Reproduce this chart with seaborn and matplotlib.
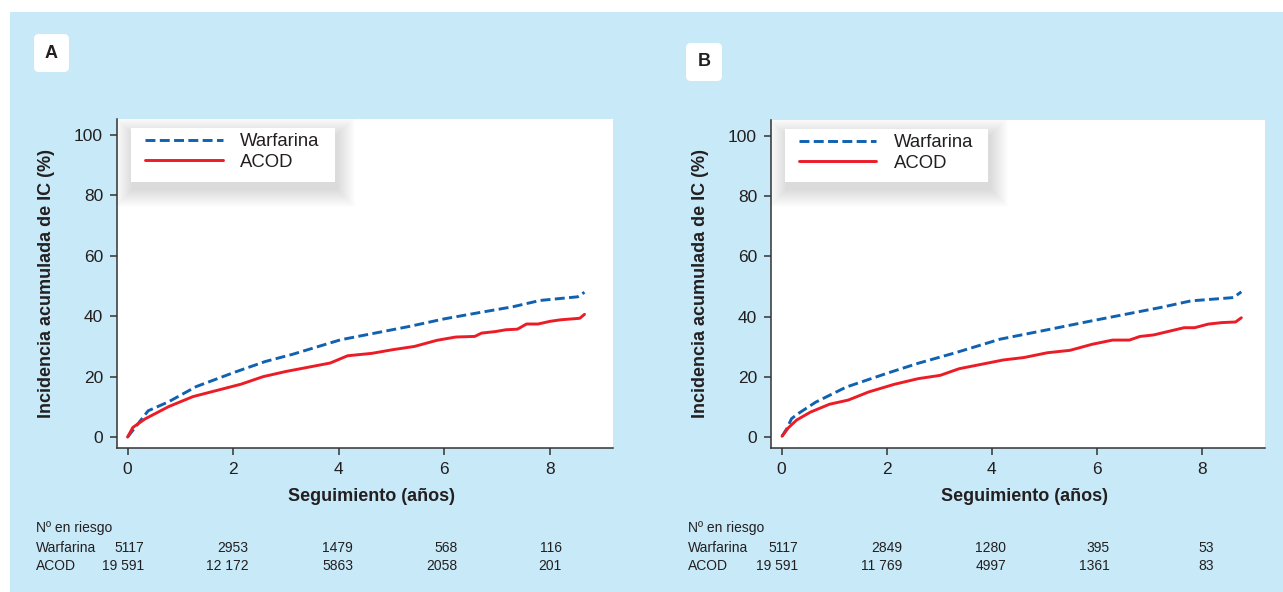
import numpy as np
import pandas as pd
import matplotlib
matplotlib.use("Agg")
import matplotlib.pyplot as plt
from matplotlib.patches import Rectangle, FancyBboxPatch
from matplotlib.lines import Line2D
from matplotlib.transforms import blended_transform_factory, IdentityTransform
from matplotlib import font_manager
import seaborn as sns

# Curvas (tiempo en años, incidencia acumulada en %)
# Panel A
t_war_a = [0, 0.13, 0.39, 0.78, 1.30, 2.02, 2.61, 3.13, 4.04, 4.69, 5.34, 6.0, 6.64, 7.30, 7.82, 8.53, 8.66]
inc_war_a = [0, 2.9, 8.7, 11.7, 16.7, 21.4, 25.0, 27.4, 32.2, 34.4, 36.6, 39.1, 41.1, 43.1, 45.2, 46.4, 47.9]
t_acod_a = [0, 0.10, 0.33, 0.78, 1.24, 2.15, 2.57, 3.0, 3.84, 4.17, 4.63, 5.02, 5.44, 5.86, 6.22, 6.58,
            6.71, 6.97, 7.17, 7.39, 7.56, 7.78, 8.01, 8.21, 8.57, 8.66]
inc_acod_a = [0, 3.2, 6.0, 10.1, 13.4, 17.5, 20.0, 21.7, 24.5, 26.9, 27.7, 28.9, 30.0, 32.0, 33.1, 33.3,
              34.4, 34.9, 35.5, 35.7, 37.4, 37.4, 38.3, 38.8, 39.3, 40.6]

# Panel B
t_war_b = [0.01, 0.10, 0.19, 0.29, 0.65, 1.23, 2.01, 2.60, 3.31, 4.16, 4.94, 5.91, 6.56, 7.21, 7.79, 8.60, 8.75]
inc_war_b = [0.3, 2.8, 6.1, 7.5, 11.6, 16.6, 21.2, 24.5, 28.0, 32.5, 35.2, 38.6, 40.8, 43.0, 45.2, 46.3, 48.2]
t_acod_b = [0.01, 0.13, 0.29, 0.55, 0.91, 1.27, 1.66, 2.14, 2.60, 3.02, 3.38, 4.22, 4.61, 5.06, 5.49, 5.91,
            6.30, 6.62, 6.82, 7.08, 7.66, 7.86, 8.12, 8.38, 8.64, 8.75]
inc_acod_b = [0.3, 3.1, 5.7, 8.3, 10.9, 12.3, 15.0, 17.5, 19.4, 20.5, 22.7, 25.6, 26.4, 28.0, 28.8, 30.8,
              32.2, 32.2, 33.4, 33.9, 36.3, 36.3, 37.5, 38.0, 38.2, 39.6]

# Número en riesgo
risk_times = [0, 2, 4, 6, 8]
risk_war_a = [5117, 2953, 1479, 568, 116]
risk_acod_a = [19591, 12172, 5863, 2058, 201]
risk_war_b = [5117, 2849, 1280, 395, 53]
risk_acod_b = [19591, 11769, 4997, 1361, 83]

grupos = ["Warfarina", "ACOD"]
colores = {"Warfarina": "#1062B0", "ACOD": "#EC1C27"}
estilos = {"Warfarina": (3.4, 1.5), "ACOD": ""}
fondo = "#C8E9F8"
texto = "#231F20"

sns.set_theme(style="ticks")
plt.rcParams["font.family"] = ["Liberation Sans", "DejaVu Sans"]

nombres = {f.name for f in font_manager.fontManager.ttflist}
if "Liberation Sans Narrow" in nombres:
    fuente_tabla, tam_tabla = "Liberation Sans Narrow", 11
else:
    fuente_tabla, tam_tabla = "Liberation Sans", 10


def fmt(n):
    # separador de miles con espacio solo para 5 cifras o más
    return f"{n:,}".replace(",", " ") if n >= 10000 else str(n)


fig = plt.figure(figsize=(12.83, 5.92), dpi=100)
fig.patch.set_facecolor("white")
fig.add_artist(Rectangle((10 / 1283, 0), 1 - 10 / 1283, 1 - 12 / 592, transform=fig.transFigure,
                         facecolor=fondo, edgecolor="none", zorder=-1))

ax_a = fig.add_axes([117 / 1283, 144 / 592, 496 / 1283, 329 / 592])
ax_b = fig.add_axes([771 / 1283, 144 / 592, 494 / 1283, 328 / 592])

paneles = [
    (ax_a, "A", (34, 34, 35, 38), t_war_a, inc_war_a, t_acod_a, inc_acod_a, risk_war_a, risk_acod_a, 36),
    (ax_b, "B", (686, 43, 36, 38), t_war_b, inc_war_b, t_acod_b, inc_acod_b, risk_war_b, risk_acod_b, 688),
]

for ax, letra, caja, tw, iw, ta, ia, rw, ra, x_tabla in paneles:
    df = pd.concat([
        pd.DataFrame({"t": tw, "inc": iw, "grupo": "Warfarina"}),
        pd.DataFrame({"t": ta, "inc": ia, "grupo": "ACOD"}),
    ])
    sns.lineplot(data=df, x="t", y="inc", hue="grupo", style="grupo", hue_order=grupos,
                 style_order=grupos, palette=colores, dashes=estilos, estimator=None,
                 linewidth=2.1, legend=False, ax=ax, zorder=3)

    ax.set_facecolor("white")
    ax.set_xlim(-0.2, 9.2)
    ax.set_ylim(-3.6, 105.2)
    ax.set_xticks([0, 2, 4, 6, 8])
    ax.set_yticks([0, 20, 40, 60, 80, 100])
    sns.despine(ax=ax)
    for s in ["left", "bottom"]:
        ax.spines[s].set_color("#333333")
        ax.spines[s].set_linewidth(1.1)
    ax.tick_params(axis="both", direction="out", length=5, width=1.1, color="#333333",
                   labelsize=12.5, labelcolor=texto, pad=5)

    ax.set_xlabel("Seguimiento (años)", fontsize=13, fontweight="bold", color=texto)
    ax.set_ylabel("Incidencia acumulada de IC (%)", fontsize=13, fontweight="bold", color=texto)
    ax.xaxis.set_label_coords(0.513, -0.122)
    ax.yaxis.set_label_coords(-0.125, 0.5)

    # caja de la leyenda con sombra difusa
    x0, y0, w, h = 0.029, 0.81, 0.41, 0.164
    px, py = 1 / 496, 1 / 329
    for k in range(18, 0, -1):
        ax.add_patch(Rectangle((x0 + 2 * px - k * px, y0 - 7 * py - k * py), w + 2 * k * px, h + 2 * k * py,
                               transform=ax.transAxes, facecolor="black", edgecolor="none",
                               alpha=0.006, zorder=4))
    ax.add_patch(Rectangle((x0, y0), w, h, transform=ax.transAxes, facecolor="white",
                           edgecolor="none", zorder=5))
    handles = [Line2D([], [], color=colores[g], linewidth=2.1) for g in grupos]
    handles[0].set_dashes(estilos["Warfarina"])
    leg = ax.legend(handles, grupos, loc="upper left", bbox_to_anchor=(0.0565, 0.957),
                    frameon=False, borderpad=0, borderaxespad=0, handlelength=4.2,
                    handletextpad=0.95, labelspacing=0.2, fontsize=13.3)
    leg.set_zorder(6)
    for t in leg.get_texts():
        t.set_color(texto)

    # etiqueta del panel
    cx, cy, cw, ch = caja
    fig.add_artist(FancyBboxPatch((cx, 592 - cy - ch), cw, ch, boxstyle="round,pad=0,rounding_size=5",
                                  transform=IdentityTransform(), facecolor="white", edgecolor="none"))
    fig.text((cx + cw / 2) / 1283, 1 - (cy + ch / 2) / 592, letra, ha="center", va="center",
             fontsize=13, fontweight="bold", color=texto)

    # tabla de número en riesgo
    fig.text(x_tabla / 1283, (592 - 528) / 592, "Nº en riesgo", ha="left", va="center",
             family=fuente_tabla, fontsize=tam_tabla, color=texto)
    tr = blended_transform_factory(ax.transData, fig.transFigure)
    for etiqueta, valores, ypix in [("Warfarina", rw, 548), ("ACOD", ra, 566)]:
        yf = (592 - ypix) / 592
        fig.text(x_tabla / 1283, yf, etiqueta, ha="left", va="center",
                 family=fuente_tabla, fontsize=tam_tabla, color=texto)
        for t, n in zip(risk_times, valores):
            ax.text(t + 0.32 - 0.012 * t, yf, fmt(n), transform=tr, ha="right", va="center",
                    family=fuente_tabla, fontsize=tam_tabla, color=texto, clip_on=False)

fig.savefig("out.png", dpi=100, facecolor=fig.get_facecolor())
